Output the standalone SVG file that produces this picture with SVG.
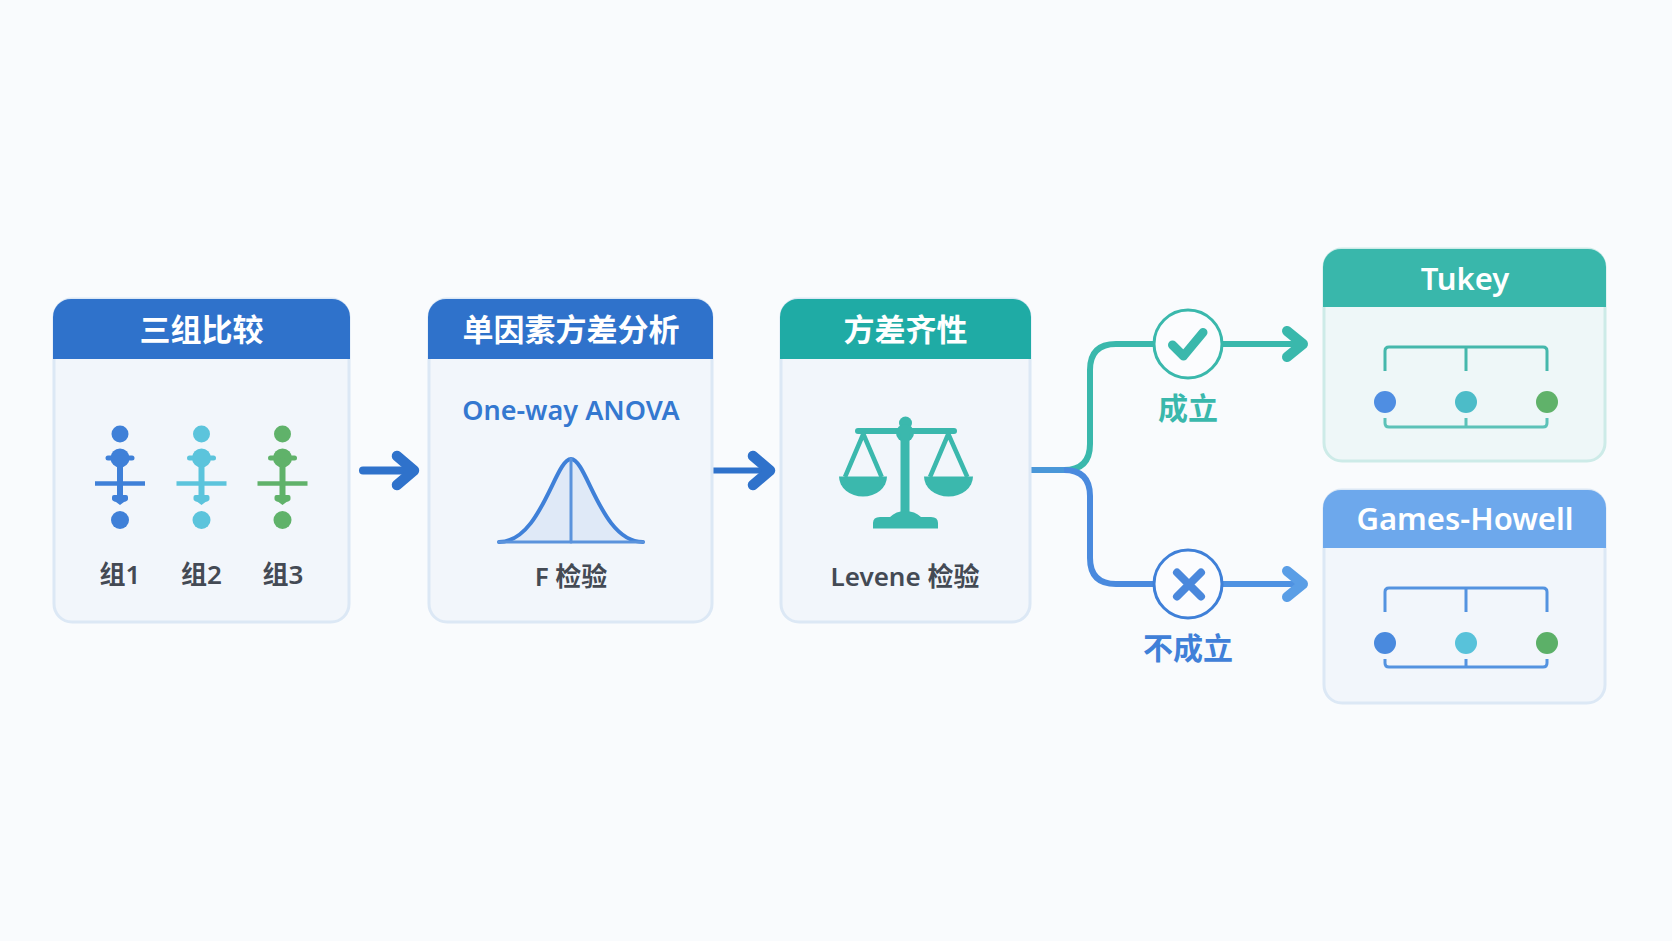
<svg xmlns="http://www.w3.org/2000/svg" xmlns:xlink="http://www.w3.org/1999/xlink" width="1672" height="941" viewBox="0 0 1672 941">
<style>
text{font-family:"Noto Sans","Noto Sans CJK SC",sans-serif;text-anchor:middle}
.title{font-size:31px;font-weight:700;fill:#fff}
.latin{font-size:31px;font-weight:600;fill:#fff}
.sub{font-size:26px;font-weight:600;fill:#444a54}
.card{fill:#f2f6fb;stroke:#dce8f5;stroke-width:3}
.cardt{fill:#eef7f8;stroke:#cdebe8;stroke-width:3}
.blue{fill:#2f72cb}.teal{fill:#1fabA5}.teal2{fill:#39b7ab}.sky{fill:#6da8ec}
.ln{fill:none;stroke-linecap:round;stroke-linejoin:round}
.conn{fill:none;stroke-width:6;stroke-linecap:butt;stroke-linejoin:round}
.badge{fill:#fbfcfe;stroke-width:3}
.br{fill:none;stroke-width:3;stroke-linecap:butt;stroke-linejoin:round}
.cap{font-size:30px;font-weight:700}
</style>
<defs>
<g id="glyph">
<circle cx="0" cy="-36" r="8.500"/>
<circle cx="0" cy="50" r="9"/>
<circle cx="0" cy="-12" r="9.500"/>
<path d="M-12,-12H12" class="ln" stroke="currentColor" stroke-width="5"/>
<path d="M0,-10V30" class="ln" stroke="currentColor" stroke-width="6"/>
<path d="M-25,13.500H25" stroke="currentColor" stroke-width="4.500" fill="none"/>
<path d="M-8,27Q-8,25 -6,25H6Q8,25 8,27V29Q8,31 4,32L0,35L-4,32Q-8,31 -8,29z"/>
</g>
</defs>
<rect width="1672" height="941" fill="#f9fbfd"/>

<g id="connectors">
<path class="ln" d="M363,470.500H408" stroke="#2f72cb" stroke-width="8"/>
<path class="ln" d="M397,456L414,470.500L397,485" stroke="#2f72cb" stroke-width="10.500"/>
<path class="conn" d="M713,470.500H762" stroke="#2f72cb" stroke-width="7.500"/>
<path class="ln" d="M753,456L770,470.500L753,485" stroke="#2f72cb" stroke-width="10.500"/>
<path class="conn" d="M1031,470H1064Q1090,470 1090,444V370Q1090,344 1116,344H1155" stroke="#3ab8ac"/>
<path class="conn" d="M1031,470H1064Q1090,470 1090,496V558Q1090,584 1116,584H1155" stroke="#4a8ade"/>
<path class="conn" d="M1031,470H1064" stroke="#4a97d8"/>
<path class="conn" d="M1222,344H1298" stroke="#3ab8ac"/>
<path class="ln" d="M1287,331L1303,344L1287,357" stroke="#3ab8ac" stroke-width="10"/>
<path class="conn" d="M1222,584H1298" stroke="#4f92e2"/>
<path class="ln" d="M1287,571L1303,584L1287,597" stroke="#5a9ee6" stroke-width="10"/>
</g>

<g id="node-three-groups">
<rect class="card" x="54" y="299" width="295" height="323" rx="18"/>
<path class="blue" d="M53,359V317A18,18 0 0 1 71,299H332A18,18 0 0 1 350,317V359z"/>
<text class="title" x="201.500" y="341">三组比较</text>
<use xlink:href="#glyph" href="#glyph" x="120" y="470" color="#3f80d8" fill="#3f80d8"/>
<use xlink:href="#glyph" href="#glyph" x="201.500" y="470" color="#5cc4dc" fill="#5cc4dc"/>
<use xlink:href="#glyph" href="#glyph" x="282.500" y="470" color="#60b26a" fill="#60b26a"/>
<text class="sub" x="120" y="584">组1</text>
<text class="sub" x="201.500" y="584">组2</text>
<text class="sub" x="283" y="584">组3</text>
</g>

<g id="node-anova">
<rect class="card" x="429" y="299" width="283" height="323" rx="18"/>
<path class="blue" d="M428,359V317A18,18 0 0 1 446,299H695A18,18 0 0 1 713,317V359z"/>
<text class="title" x="571" y="341">单因素方差分析</text>
<text x="571" y="420" font-size="27" font-weight="600" fill="#3478d0">One-way ANOVA</text>
<path d="M499,542C541,542 555,459 571,459C587,459 601,542 643,542z" fill="#dfe9f7"/>
<path d="M499,542C541,542 555,459 571,459C587,459 601,542 643,542" class="ln" stroke="#3f80d8" stroke-width="4"/>
<path d="M499,542H643" class="ln" stroke="#5b93dc" stroke-width="3"/>
<path d="M571,459V542" class="ln" stroke="#5b93dc" stroke-width="3"/>
<text class="sub" x="571" y="586">F 检验</text>
</g>

<g id="node-levene">
<rect class="card" x="781" y="299" width="249" height="323" rx="18"/>
<path class="teal" d="M780,359V317A18,18 0 0 1 798,299H1013A18,18 0 0 1 1031,317V359z"/>
<text class="title" x="905.500" y="341">方差齐性</text>
<g fill="#3bb8ad">
<circle cx="905.500" cy="423" r="6.500"/>
<circle cx="905" cy="433" r="9"/>
<rect x="855" y="428" width="102" height="6" rx="3"/>
<rect x="900.500" y="433" width="9" height="82"/>
<path d="M873,528.500V523Q873,517 880,517H890Q896,511 905,511Q915,511 921,517H931Q938,517 938,523V528.500z"/>
<path d="M839,476.500H887A24,20 0 0 1 839,476.500z"/>
<path d="M924,476.500H973A24.500,20 0 0 1 924,476.500z"/>
</g>
<path d="M845,477L863.300,434L881.700,477M930,477L948.300,434L967.300,477" fill="none" stroke="#3bb8ad" stroke-width="4.500" stroke-linejoin="round"/>
<text class="sub" x="905" y="586">Levene 检验</text>
</g>

<g id="node-holds">
<circle class="badge" cx="1188" cy="344" r="34" stroke="#3ab8ac"/>
<path class="ln" d="M1172.500,345L1183.500,356L1203,332.500" stroke="#3ab8ac" stroke-width="9"/>
<text class="cap" x="1188" y="419" fill="#3ab8ac">成立</text>
</g>

<g id="node-fails">
<circle class="badge" cx="1188" cy="584" r="34" stroke="#3f80d8"/>
<path class="ln" d="M1177,572.500L1201,596.500M1201,572.500L1177,596.500" stroke="#4a88dc" stroke-width="8"/>
<text class="cap" x="1188" y="659" fill="#4080d8">不成立</text>
</g>

<g id="node-tukey">
<rect class="cardt" x="1324" y="249" width="281" height="212" rx="18"/>
<path class="teal2" d="M1323,307V267A18,18 0 0 1 1341,249H1588A18,18 0 0 1 1606,267V307z"/>
<text class="latin" x="1465" y="290">Tukey</text>
<path class="br" d="M1385,371V351Q1385,347 1389,347H1543Q1547,347 1547,351V371M1466,347V371" stroke="#45b8ac"/>
<path class="br" d="M1385,418V423Q1385,427 1389,427H1543Q1547,427 1547,423V418M1466,418V427" stroke="#5cc2b8"/>
<circle cx="1385" cy="402" r="11" fill="#4f8ee2"/>
<circle cx="1466" cy="402" r="11" fill="#4cbcc8"/>
<circle cx="1547" cy="402" r="11" fill="#60b26a"/>
</g>

<g id="node-games-howell">
<rect class="card" x="1324" y="490" width="281" height="213" rx="18"/>
<path class="sky" d="M1323,548V508A18,18 0 0 1 1341,490H1588A18,18 0 0 1 1606,508V548z"/>
<text class="latin" x="1465" y="530">Games-Howell</text>
<path class="br" d="M1385,612V592Q1385,588 1389,588H1543Q1547,588 1547,592V612M1466,588V612" stroke="#5493e0"/>
<path class="br" d="M1385,659V663Q1385,667 1389,667H1543Q1547,667 1547,663V659M1466,659V667" stroke="#5493e0"/>
<circle cx="1385" cy="643" r="11" fill="#4a8ade"/>
<circle cx="1466" cy="643" r="11" fill="#58c2da"/>
<circle cx="1547" cy="643" r="11" fill="#5cb068"/>
</g>
</svg>
